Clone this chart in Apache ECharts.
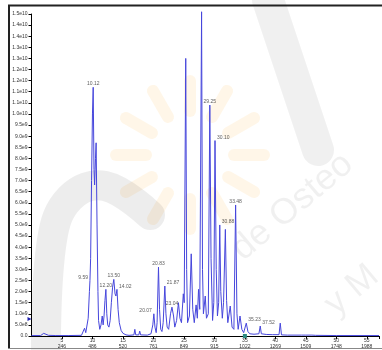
<!DOCTYPE html>
<html>
<head>
<meta charset="utf-8">
<style>
  html, body { margin: 0; padding: 0; background: #fff; }
  #chart { width: 382px; height: 350px; }
</style>
<script src="https://cdn.jsdelivr.net/npm/echarts@6/dist/echarts.min.js"></script>
</head>
<body>
<div id="chart"></div>
<script>
// 时间 (min) / 强度 (x1e9)
const traceTimes = [
  0, 1.5, 2.0, 2.3, 2.8, 4, 6, 8.2, 8.5, 8.7, 8.9, 9.1, 9.3, 9.5, 9.59, 9.7, 9.85, 10.0, 10.12,
  10.25, 10.35, 10.5, 10.6, 10.75, 10.9, 11.0, 11.2, 11.4, 11.6, 11.75, 11.9, 12.05, 12.2, 12.35,
  12.5, 12.7, 12.9, 13.1, 13.3, 13.5, 13.7, 13.85, 14.02, 14.2, 14.4, 14.7, 15.0, 15.3, 15.5, 16,
  16.8, 16.95, 17.1, 17.6, 17.75, 17.9, 19.0, 19.6, 19.9, 20.07, 20.25, 20.45, 20.6, 20.83, 21.0,
  21.2, 21.4, 21.6, 21.87, 22.05, 22.25, 22.5, 22.8, 23.04, 23.3, 23.5, 23.8, 24.1, 24.35, 24.6,
  24.9, 25.05, 25.3, 25.45, 25.6, 25.9, 26.2, 26.45, 26.7, 27.0, 27.2, 27.4, 27.6, 27.9, 28.05,
  28.2, 28.5, 28.7, 29.0, 29.25, 29.45, 29.7, 29.9, 30.1, 30.3, 30.5, 30.7, 30.88, 31.05, 31.3,
  31.5, 31.8, 32.0, 32.2, 32.6, 32.9, 33.2, 33.48, 33.7, 33.9, 34.2, 34.5, 34.8, 35.0, 35.23,
  35.5, 35.8, 36.5, 37.3, 37.52, 37.7, 38.5, 39.5, 40.6, 40.8, 41.0, 42, 44.3, 44.6, 44.9, 46,
  46.3, 46.6, 50, 57
];
const traceValues = [
  0.02, 0.02, 0.12, 0.05, 0.03, 0.02, 0.02, 0.03, 0.12, 0.35, 0.15, 0.2, 0.8, 2.0, 2.5, 3.5, 7.0, 10.0, 11.2,
  7.5, 6.8, 8.0, 8.7, 5.0, 2.0, 0.7, 0.3, 0.5, 0.9, 0.5, 0.9, 1.6, 2.1, 1.0,
  0.5, 0.4, 0.7, 1.5, 2.2, 2.55, 1.9, 1.8, 2.1, 1.2, 0.6, 0.25, 0.12, 0.15, 0.05, 0.03,
  0.05, 0.3, 0.05, 0.05, 0.22, 0.05, 0.04, 0.1, 0.5, 1.0, 0.4, 0.15, 0.6, 3.1, 1.2,
  0.3, 0.2, 0.6, 2.25, 1.0, 0.4, 0.3, 1.0, 1.3, 0.9, 0.4, 0.7, 1.5, 0.8, 0.6,
  1.9, 1.5, 12.5, 3.0, 0.6, 0.9, 3.7, 1.2, 0.6, 1.4, 0.8, 2.1, 1.2, 14.6, 3.0,
  1.0, 1.8, 0.8, 1.0, 10.4, 3.5, 0.7, 1.5, 8.8, 3.0, 0.9, 1.5, 5.0, 2.0, 0.8,
  1.5, 4.8, 1.6, 0.6, 1.35, 0.4, 0.3, 5.9, 1.0, 0.3, 0.9, 0.3, 0.15, 0.2, 0.58,
  0.2, 0.1, 0.08, 0.1, 0.45, 0.1, 0.07, 0.06, 0.06, 0.58, 0.05, 0.04, 0.04, 0.1, 0.04, 0.04,
  0.08, 0.03, 0.02, 0.02
];

// 峰标注
const peakTimes = [9.59, 10.12, 12.20, 13.50, 14.02, 20.07, 20.83, 21.87, 23.04, 29.25, 30.10, 30.88, 33.48, 35.23, 37.52];
const peakHeights = [2.5, 11.2, 2.1, 2.55, 2.1, 1.0, 3.1, 2.25, 1.3, 10.4, 8.8, 5.0, 5.9, 0.58, 0.45];
const peakLabels = ['9.59', '10.12', '12.20', '13.50', '14.02', '20.07', '20.83', '21.87', '23.04', '29.25', '30.10', '30.88', '33.48', '35.23', '37.52'];

// 坐标轴刻度文字
const xTickMinutes = [5, 10, 15, 20, 25, 30, 35, 40, 45, 50, 55];
const xTickScans = ['246', '486', '520', '761', '849', '915', '1022', '1269', '1509', '1748', '1988'];
const yTickLabels = ['0.0', '5.0e8', '1.0e9', '1.5e9', '2.0e9', '2.5e9', '3.0e9', '3.5e9', '4.0e9', '4.5e9',
  '5.0e9', '5.5e9', '6.0e9', '6.5e9', '7.0e9', '7.5e9', '8.0e9', '8.5e9', '9.0e9', '9.5e9',
  '1.0e10', '1.1e10', '1.1e10', '1.2e10', '1.2e10', '1.3e10', '1.3e10', '1.4e10', '1.4e10', '1.5e10'];

const FONT = '"Liberation Sans", Arial, sans-serif';
const LINE_COLOR = '#4646dc';

// 标签放在峰的哪一侧
const labelSide = {
  '9.59': 'left', '14.02': 'right', '20.07': 'left', '21.87': 'right',
  '30.10': 'right', '30.88': 'right', '35.23': 'right', '37.52': 'right'
};

// 背景水印（很淡）
const sunRays = [];
for (let k = 0; k < 12; k++) {
  sunRays.push({
    type: 'rect',
    shape: { x: -6, y: -80, width: 12, height: 42, r: 6 },
    x: 190, y: 155,
    rotation: (k * Math.PI) / 6,
    style: { fill: 'rgba(253, 196, 110, 0.16)' },
    silent: true, z: -10
  });
}
const watermark = [
  ...sunRays,
  {
    type: 'polyline', silent: true, z: -10,
    shape: { points: [[46, 352], [52, 240], [70, 198], [105, 186], [150, 215]], smooth: 0.4 },
    style: { stroke: 'rgba(0,0,0,0.07)', lineWidth: 30, fill: null, lineCap: 'round' }
  },
  {
    type: 'line', silent: true, z: -10,
    shape: { x1: 268, y1: 0, x2: 318, y2: 150 },
    style: { stroke: 'rgba(0,0,0,0.06)', lineWidth: 32, lineCap: 'round' }
  },
  {
    type: 'text', silent: true, z: -10,
    x: 225, y: 240, rotation: Math.PI / 4.5,
    style: { text: 'de Osteo', font: '36px "Liberation Sans", Arial, sans-serif', fill: 'rgba(0,0,0,0.06)' }
  },
  {
    type: 'text', silent: true, z: -10,
    x: 318, y: 295, rotation: Math.PI / 4.5,
    style: { text: 'y M', font: '36px "Liberation Sans", Arial, sans-serif', fill: 'rgba(0,0,0,0.06)' }
  }
];

const chart = echarts.init(document.getElementById('chart'), null, { renderer: 'canvas' });

const option = {
  animation: false,
  backgroundColor: '#fff',
  grid: { left: 31.5, right: 0, top: 14, bottom: 13 },
  xAxis: {
    type: 'value',
    min: 0,
    max: 57,
    interval: 5,
    axisLine: { lineStyle: { color: '#000', width: 1 } },
    axisTick: { show: true, length: 3, lineStyle: { color: '#000' } },
    splitLine: { show: false },
    axisLabel: {
      margin: 2,
      fontSize: 5,
      lineHeight: 6,
      fontFamily: FONT,
      color: '#333',
      showMinLabel: false,
      formatter: (v) => {
        const i = xTickMinutes.indexOf(v);
        return i < 0 ? '' : xTickMinutes[i] + '\n' + xTickScans[i];
      }
    }
  },
  yAxis: {
    type: 'value',
    min: 0,
    max: 14.5,
    interval: 0.5,
    axisLine: { show: true, lineStyle: { color: '#000', width: 1 } },
    axisTick: { show: true, length: 3, lineStyle: { color: '#000' } },
    splitLine: { show: false },
    axisLabel: {
      margin: 4,
      fontSize: 5,
      fontFamily: FONT,
      color: '#333',
      formatter: (v) => yTickLabels[Math.round(v / 0.5)] || ''
    }
  },
  series: [
    {
      type: 'line',
      data: traceTimes.map((t, i) => [t, traceValues[i]]),
      showSymbol: false,
      clip: false,
      lineStyle: { color: LINE_COLOR, width: 1 },
      markPoint: {
        silent: true,
        data: [
          { coord: [35, 0], symbol: 'rect', symbolSize: 4, itemStyle: { color: '#2a8a80' }, label: { show: false } },
          { coord: [0, 0.76], symbol: 'triangle', symbolRotate: -90, symbolSize: 4, symbolOffset: [-2, 0], itemStyle: { color: '#2020b0' }, label: { show: false } }
        ]
      },
      z: 2
    },
    {
      type: 'scatter',
      symbolSize: 0,
      data: peakTimes.map((t, i) => ({
        value: [t, peakHeights[i]],
        name: peakLabels[i],
        label: labelSide[peakLabels[i]]
          ? { position: labelSide[peakLabels[i]], distance: 2, offset: [0, -3] }
          : { position: 'top', distance: 1 }
      })),
      label: {
        show: true,
        formatter: (p) => p.name,
        fontSize: 5,
        fontFamily: FONT,
        color: '#333'
      },
      z: 3
    }
  ],
  graphic: [
    ...watermark,
    // 外框
    { type: 'line', shape: { x1: 8, y1: 5.5, x2: 382, y2: 5.5 }, style: { stroke: '#222', lineWidth: 2 } },
    { type: 'line', shape: { x1: 9, y1: 5, x2: 9, y2: 349 }, style: { stroke: '#222', lineWidth: 2 } },
    { type: 'line', shape: { x1: 8, y1: 348.5, x2: 382, y2: 348.5 }, style: { stroke: '#888', lineWidth: 1 } }
  ]
};

chart.setOption(option);
window.addEventListener('resize', () => chart.resize());
</script>
</body>
</html>
